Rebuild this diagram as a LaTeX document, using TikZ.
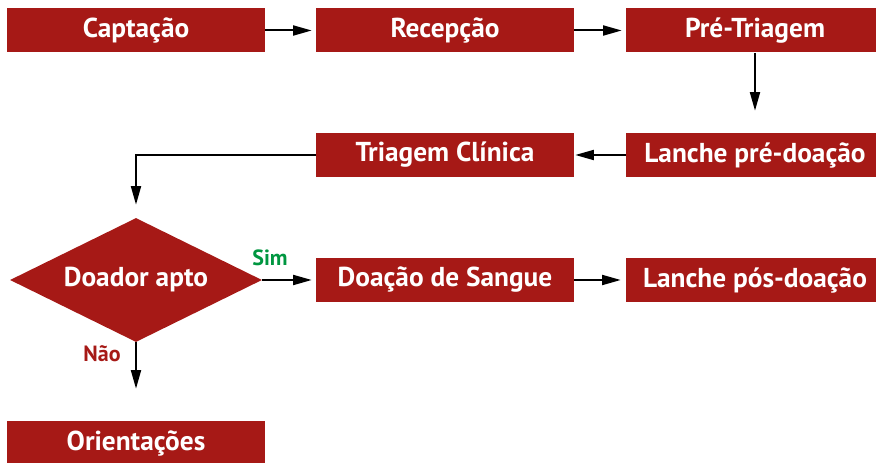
\documentclass[tikz,border=0pt]{standalone}
\usepackage{fontspec}
\setmainfont{PT Sans}
\usetikzlibrary{arrows.meta,shapes.geometric}
\definecolor{boxred}{RGB}{166,25,22}
\definecolor{simgreen}{RGB}{0,150,64}
\begin{document}
\begin{tikzpicture}[x=0.75pt,y=-0.75pt,
  stepbox/.style={fill=boxred,draw=none,text=white,font=\bfseries\fontsize{20.5}{24}\selectfont,
    minimum width=193.5pt,minimum height=33pt,inner sep=0pt,anchor=center},
  decision/.style={diamond,fill=boxred,draw=none,text=white,font=\bfseries\fontsize{20.5}{24}\selectfont,
    minimum width=189pt,minimum height=93pt,inner sep=0pt,aspect=2.03},
  conn/.style={line width=1.5pt,-{Triangle[length=14pt,width=7.5pt]}},
  lbl/.style={font=\bfseries\fontsize{16.5}{19}\selectfont,inner sep=0pt}]
\useasboundingbox (0,0) rectangle (876,463);
\clip (0,0) rectangle (876,463);
\node[stepbox] (capt) at (136,30.5) {Captação};
\node[stepbox] (rec) at (445,30.5) {Recepção};
\node[stepbox] (pre) at (755,30.5) {Pré-Triagem};
\node[stepbox] (lpre) at (755,155) {Lanche pré-doação};
\node[stepbox] (tri) at (445,155) {Triagem Clínica};
\node[decision] (apto) at (136,280) {Doador apto};
\node[stepbox] (doa) at (445,280) {Doação de Sangue};
\node[stepbox] (lpos) at (755,280) {Lanche pós-doação};
\node[stepbox] (ori) at (136,443) {Orientações};
\node[lbl,text=simgreen] (sim) at (270,258) {Sim};
\node[lbl,text=boxred] (nao) at (102,354) {Não};
\coordinate (corner) at (136,155);
\draw[conn,shorten >=3pt] (capt.east) -- (rec.west);
\draw[conn,shorten >=3pt] (rec.east) -- (pre.west);
\draw[conn,shorten >=16.5pt] (pre.south) -- (lpre.north);
\draw[conn,shorten >=0.75pt] (lpre.west) -- (tri.east);
\draw[conn,shorten >=9.75pt] (tri.west) -- (corner) -- (apto.north);
\draw[conn,shorten >=3pt] (apto.east) -- (doa.west);
\draw[conn,shorten >=3.75pt] (doa.east) -- (lpos.west);
\draw[conn,shorten >=24pt] (apto.south) -- (ori.north);
\end{tikzpicture}
\end{document}
